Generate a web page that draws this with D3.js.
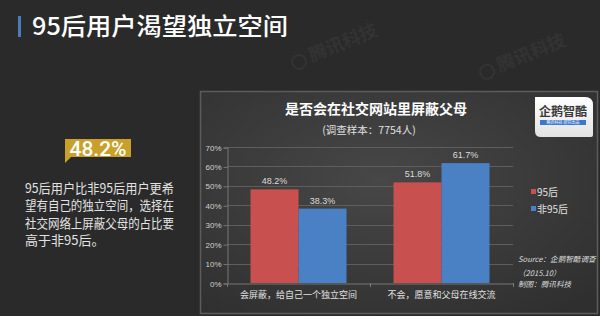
<!DOCTYPE html>
<html>
<head>
<meta charset="utf-8">
<script src="https://cdn.jsdelivr.net/npm/d3@7"></script>
<style>
  html, body { margin: 0; padding: 0; background: #2a2a2a; }
  svg { display: block; font-family: "Noto Sans CJK SC", "Noto Sans", sans-serif; }
</style>
</head>
<body>
<svg id="chart" width="600" height="316"></svg>
<script>
// Survey: would you block your parents on social networks?
const categories = ["会屏蔽，给自己一个独立空间", "不会，愿意和父母在线交流"];
const seriesNames = ["95后", "非95后"];
const values95 = [48.2, 51.8];
const valuesNon95 = [38.3, 61.7];
const yTicks = [0, 10, 20, 30, 40, 50, 60, 70];
const seriesColors = ["#c8504e", "#4a80c4"];
const noteLines = [
  "95后用户比非95后用户更希",
  "望有自己的独立空间，选择在",
  "社交网络上屏蔽父母的占比要",
  "高于非95后。"
];
const sourceLines = ["Source：企鹅智酷调查", "（2015.10）", "制图：腾讯科技"];

const svg = d3.select("#chart");
const defs = svg.append("defs");

// page background
svg.append("rect").attr("width", 600).attr("height", 316).attr("fill", "#2a2a2a");

// faint watermarks
const wm = [[312, 62], [500, 72]];
wm.forEach(([x, y]) => {
  const g = svg.append("g").attr("transform", `translate(${x},${y}) rotate(-22)`).attr("opacity", 0.04);
  g.append("circle").attr("cx", -12).attr("cy", -5).attr("r", 7).attr("fill", "none").attr("stroke", "#fff").attr("stroke-width", 2);
  g.append("text").attr("x", 0).attr("y", 0).attr("fill", "#fff").attr("font-size", 18).attr("font-weight", 700).text("腾讯科技");
});

// heading
svg.append("rect").attr("x", 18).attr("y", 16).attr("width", 3).attr("height", 21).attr("fill", "#4a7cc0");
svg.append("text").attr("x", 32).attr("y", 35).attr("fill", "#fff")
  .attr("font-size", 24).attr("font-weight", 500)
  .attr("textLength", 256).attr("lengthAdjust", "spacingAndGlyphs")
  .text("95后用户渴望独立空间");

// callout with highlighted value
svg.append("path")
  .attr("d", "M65,139 H131 V157 H71 L65,163 Z")
  .attr("fill", "#c9a02a");
svg.append("text").attr("x", 98).attr("y", 156).attr("text-anchor", "middle")
  .attr("fill", "#fff").attr("font-size", 21).attr("font-weight", 500)
  .attr("font-family", "Roboto, 'Noto Sans', sans-serif")
  .attr("textLength", 57).attr("lengthAdjust", "spacingAndGlyphs")
  .text(d3.format(".1f")(values95[0]) + "%");

// explanatory note
noteLines.forEach((t, i) => {
  const el = svg.append("text").attr("x", 25).attr("y", 193 + i * 17.3)
    .attr("fill", "#e2e2e2").attr("font-size", 13).text(t);
  if (i < 3) el.attr("textLength", 149).attr("lengthAdjust", "spacingAndGlyphs");
});

// chart panel
const grad = defs.append("radialGradient").attr("id", "panelBg")
  .attr("cx", "45%").attr("cy", "40%").attr("r", "75%");
grad.append("stop").attr("offset", "0%").attr("stop-color", "#474747");
grad.append("stop").attr("offset", "100%").attr("stop-color", "#2f2f2f");
svg.append("rect").attr("x", 200.5).attr("y", 91.5).attr("width", 397).attr("height", 222)
  .attr("fill", "url(#panelBg)").attr("stroke", "#5c5c5c").attr("stroke-width", 1.5);

svg.append("text").attr("x", 376).attr("y", 114).attr("text-anchor", "middle")
  .attr("fill", "#fff").attr("font-size", 14).attr("font-weight", 700)
  .text("是否会在社交网站里屏蔽父母");
svg.append("text").attr("x", 369).attr("y", 134).attr("text-anchor", "middle")
  .attr("fill", "#e0e0e0").attr("font-size", 10.5)
  .text("(调查样本：7754人)");

// logo badge
const lg = defs.append("linearGradient").attr("id", "logoBg").attr("x1", 0).attr("y1", 0).attr("x2", 0).attr("y2", 1);
lg.append("stop").attr("offset", "0%").attr("stop-color", "#ffffff");
lg.append("stop").attr("offset", "100%").attr("stop-color", "#e2e2e2");
svg.append("path")
  .attr("d", "M535,97 H585 Q593,97 593,105 V135 Q593,137 591,137 H541 Q535,137 535,131 Z")
  .attr("fill", "url(#logoBg)");
svg.append("text").attr("x", 563).attr("y", 116).attr("text-anchor", "middle")
  .attr("fill", "#3a3a3a").attr("font-size", 12).attr("font-weight", 700)
  .text("企鹅智酷");
svg.append("rect").attr("x", 540).attr("y", 120).attr("width", 46).attr("height", 5).attr("fill", "#3a78cf");
svg.append("text").attr("x", 563).attr("y", 124).attr("text-anchor", "middle")
  .attr("fill", "#fff").attr("font-size", 4).text("腾讯科技  研究出品");

// plot
const x0 = d3.scaleBand().domain(categories).range([227, 513]).paddingInner(0).paddingOuter(0);
const x1 = d3.scaleBand().domain(seriesNames).range([0, x0.bandwidth()]).paddingInner(0).paddingOuter(0.49);
const y = d3.scaleLinear().domain([0, 70]).range([283, 147]);

const grid = svg.append("g");
grid.selectAll("line").data(yTicks.filter(d => d > 0)).join("line")
  .attr("x1", 227).attr("x2", 513)
  .attr("y1", d => Math.round(y(d)) + 0.5).attr("y2", d => Math.round(y(d)) + 0.5)
  .attr("stroke", "#5e5e5e").attr("stroke-width", 1);

const yAxis = svg.append("g").attr("transform", "translate(227.5,0.5)")
  .call(d3.axisLeft(y).tickValues(yTicks).tickSize(4).tickPadding(2).tickFormat(d => d + "%"));
yAxis.select(".domain").attr("stroke", "#777");
yAxis.selectAll(".tick line").attr("stroke", "#777");
yAxis.selectAll(".tick text").attr("fill", "#d0d0d0").attr("font-size", 8)
  .attr("font-family", "'Liberation Sans', Arial, sans-serif");

const xAxis = svg.append("g").attr("transform", "translate(0,283.5)")
  .call(d3.axisBottom(x0).tickSize(0).tickPadding(8));
xAxis.select(".domain").attr("stroke", "#777");
xAxis.selectAll(".tick text").attr("fill", "#e0e0e0").attr("font-size", 9)
  .attr("font-family", "'Noto Sans CJK SC', sans-serif");
// category separators
svg.append("g").selectAll("line").data([x0.range()[0], ...categories.map(c => x0(c) + x0.bandwidth())]).join("line")
  .attr("x1", d => d + 0.5).attr("x2", d => d + 0.5).attr("y1", 283).attr("y2", 287)
  .attr("stroke", "#777");

const rows = categories.map((c, i) => ({ cat: c, vals: [values95[i], valuesNon95[i]] }));
const groups = svg.append("g").selectAll("g").data(rows).join("g")
  .attr("transform", d => `translate(${x0(d.cat)},0)`);
groups.selectAll("rect").data(d => d.vals.map((v, j) => ({ s: seriesNames[j], v, j }))).join("rect")
  .attr("x", d => x1(d.s)).attr("width", x1.bandwidth())
  .attr("y", d => y(d.v)).attr("height", d => y(0) - y(d.v))
  .attr("fill", d => seriesColors[d.j]);
groups.selectAll("text.val").data(d => d.vals.map((v, j) => ({ s: seriesNames[j], v }))).join("text")
  .attr("class", "val")
  .attr("x", d => x1(d.s) + x1.bandwidth() / 2).attr("y", d => y(d.v) - 5)
  .attr("text-anchor", "middle").attr("fill", "#dcdcdc").attr("font-size", 9)
  .attr("font-family", "'Liberation Sans', Arial, sans-serif")
  .text(d => d3.format(".1f")(d.v) + "%");

// legend
const leg = svg.append("g").selectAll("g").data(seriesNames).join("g")
  .attr("transform", (d, i) => `translate(531,${189 + i * 17})`);
leg.append("rect").attr("width", 5).attr("height", 5).attr("fill", (d, i) => seriesColors[i]);
leg.append("text").attr("x", 6).attr("y", 6.5).attr("fill", "#e0e0e0").attr("font-size", 10).text(d => d);

// source note
sourceLines.forEach((t, i) => {
  svg.append("text").attr("x", 518).attr("y", [262, 276, 287][i])
    .attr("fill", "#dcdcdc").attr("font-size", 7.6).attr("font-style", "italic")
    .text(t);
});
</script>
</body>
</html>
